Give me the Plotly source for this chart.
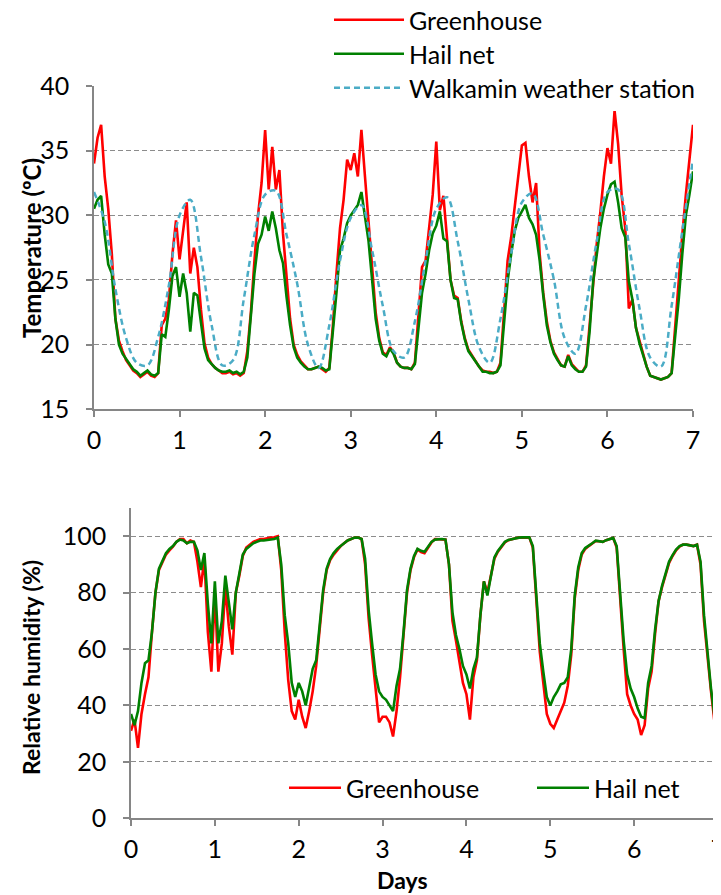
import plotly.graph_objects as go

# ---------------- data ----------------
hours = list(range(169))                      # hourly samples, 7 days
ws_steps = list(range(57))                    # 3-hourly samples for the weather station

temp_greenhouse = [
    34.0, 36.0, 37.0, 33.0, 30.5, 27.0, 22.0, 20.3, 19.5, 18.8, 18.4, 18.0, 17.8, 17.5, 17.7, 17.9, 17.6, 17.5, 17.8, 21.5, 22.0, 23.5, 27.0, 29.6,
    26.6, 28.9, 31.0, 25.5, 27.5, 26.0, 22.7, 20.1, 19.0, 18.5, 18.2, 18.0, 17.8, 17.8, 17.9, 17.7, 17.8, 17.6, 17.8, 19.5, 22.5, 26.5, 30.0, 32.5,
    36.6, 32.0, 35.3, 32.0, 33.5, 28.6, 25.3, 22.0, 20.0, 19.2, 18.7, 18.4, 18.1, 18.1, 18.2, 18.3, 18.1, 17.9, 18.2, 21.5, 25.5, 29.0, 31.2, 34.3,
    33.5, 34.8, 33.0, 36.6, 33.0, 29.5, 26.0, 22.5, 20.5, 19.4, 19.2, 19.8, 19.4, 18.6, 18.3, 18.2, 18.2, 18.1, 18.6, 22.0, 26.0, 26.5, 29.0, 31.6,
    35.7, 30.4, 31.5, 28.0, 25.0, 23.8, 23.6, 21.8, 20.5, 19.6, 19.2, 18.7, 18.3, 18.0, 17.9, 17.9, 17.8, 17.9, 18.6, 22.5, 26.5, 28.3, 30.8, 33.0,
    35.4, 35.6, 33.0, 31.0, 32.5, 27.0, 24.0, 21.8, 20.3, 19.4, 18.9, 18.4, 18.3, 19.2, 18.5, 18.2, 17.9, 17.9, 18.4, 21.5, 25.0, 27.8, 30.2, 33.0,
    35.2, 34.0, 38.1, 35.5, 31.5, 29.0, 22.8, 23.5, 21.3, 20.2, 19.3, 18.3, 17.6, 17.5, 17.4, 17.3, 17.4, 17.5, 17.8, 21.5, 24.5, 28.5, 31.6, 34.1,
    37.0,
]

temp_hailnet = [
    30.5, 31.2, 31.5, 28.5, 26.2, 25.5, 22.0, 20.0, 19.3, 18.9, 18.5, 18.1, 17.9, 17.6, 17.8, 18.0, 17.7, 17.6, 17.8, 20.8, 20.6, 22.7, 25.3, 26.0,
    23.7, 25.5, 24.0, 21.0, 24.0, 23.8, 21.7, 19.7, 18.8, 18.5, 18.2, 18.0, 17.9, 17.9, 18.0, 17.8, 17.9, 17.7, 17.9, 19.0, 22.0, 25.5, 27.8, 28.5,
    29.9, 28.8, 30.3, 29.0, 27.3, 26.3, 23.7, 21.5, 19.8, 19.0, 18.6, 18.3, 18.1, 18.1, 18.2, 18.3, 18.2, 18.0, 18.1, 20.8, 24.0, 27.3, 28.2, 29.4,
    30.0, 30.4, 30.8, 31.8, 29.8, 28.0, 25.0, 22.0, 20.3, 19.3, 19.1, 19.7, 19.3, 18.6, 18.3, 18.2, 18.2, 18.1, 18.5, 21.5, 24.0, 25.5, 27.3, 28.6,
    29.2, 30.3, 28.2, 28.0, 25.0, 23.6, 23.5, 21.7, 20.4, 19.5, 19.1, 18.6, 18.2, 17.9, 17.9, 17.8, 17.8, 17.9, 18.4, 21.5, 24.9, 27.0, 28.8, 29.8,
    30.3, 30.8, 29.8, 29.3, 28.5, 26.5, 23.8, 21.5, 20.2, 19.3, 18.8, 18.4, 18.3, 19.1, 18.4, 18.1, 17.9, 17.9, 18.3, 21.0, 24.9, 27.0, 29.0, 30.5,
    31.6, 32.4, 32.6, 31.0, 29.0, 28.3, 24.9, 23.5, 21.3, 20.1, 19.2, 18.3, 17.6, 17.5, 17.4, 17.3, 17.4, 17.5, 17.8, 20.5, 23.5, 27.0, 30.0, 31.6,
    33.4,
]

temp_walkamin = [
    31.8, 29.5, 24.3, 20.5, 18.6, 18.4, 20.6, 24.6,
    30.0, 31.2, 26.8, 21.5, 18.4, 18.8, 23.5, 28.5,
    31.6, 31.9, 28.5, 24.7, 20.0, 18.2, 21.5, 26.5,
    29.8, 30.8, 27.3, 23.0, 19.5, 19.0, 21.8, 26.5,
    30.5, 31.4, 28.0, 23.5, 19.8, 18.6, 22.0, 27.0,
    31.0, 31.7, 28.5, 25.0, 20.5, 19.3, 23.0, 28.0,
    31.8, 32.0, 27.8, 22.8, 19.0, 18.3, 23.0, 28.8,
    34.3,
]

rh_greenhouse = [
    31, 35, 25, 37, 44, 50, 66, 80, 88, 91, 93.5, 95, 96.3, 98, 99, 99, 97.5, 98.5, 98, 91, 82, 92, 66, 52,
    80, 52, 62, 82, 68, 58, 80, 86, 93, 96, 97, 98, 98.5, 99, 99, 99.3, 99.5, 99.6, 100, 88, 66, 49, 38, 35,
    42, 36, 32, 38, 45, 54, 67, 80, 88, 91.5, 93.5, 95, 96.5, 97.5, 98.5, 99, 99.5, 99.5, 99, 90, 71, 58, 45, 34,
    36, 36, 34, 29, 38, 50, 65, 80, 88, 92.6, 95.3, 94.4, 94, 96, 97.8, 99, 99, 99, 98.8, 90, 70, 63, 56, 48,
    44, 35, 50, 56, 72, 84, 80, 86, 92, 94.5, 96, 97.8, 98.6, 99, 99.3, 99.5, 99.6, 99.6, 99.6, 96, 76, 59, 48, 37,
    33.5, 32, 35, 38, 41, 47, 58, 78, 88, 93.5, 95.5, 96.5, 97.3, 98.3, 98.2, 98, 98.6, 99, 99.4, 96, 76, 60, 44, 40,
    37, 35, 29.5, 33, 46, 52, 65.5, 77, 82, 86, 90.5, 93, 95, 96.3, 97, 97, 96.8, 96.5, 97, 90, 70, 57, 45, 34,
    29,
]

rh_hailnet = [
    37, 33, 38, 48, 55, 56, 66, 80, 88.5, 91.5, 94, 95.5, 96.5, 98, 98.8, 98.5, 97.5, 98, 98, 95, 88, 94, 76, 62,
    84, 62, 70, 86, 76, 67, 80, 87, 93.5, 95.5, 96.5, 97.5, 98, 98.5, 98.5, 98.7, 99, 99, 99.5, 90, 72, 62, 48, 43,
    48, 45, 40, 46, 53, 56, 68, 81, 88.5, 92, 94, 95.5, 96.5, 97.5, 98.5, 99, 99.5, 99.5, 99, 92, 74, 62, 51, 45,
    43, 42, 40, 38, 47, 53, 66, 81, 88.5, 93, 95.5, 94.8, 94.5, 96.3, 98, 98.8, 99, 99, 98.8, 90, 73, 65, 60, 54,
    51, 46, 53, 57, 72, 84, 79, 86.5, 92.5, 94.8, 96.3, 98, 98.7, 99, 99.3, 99.5, 99.6, 99.6, 99.6, 96.5, 78, 62, 52, 43,
    40, 43, 45, 47.5, 48, 50, 60, 79, 89, 94, 95.8, 96.8, 97.5, 98.4, 98.2, 98, 98.6, 99, 99.4, 96.5, 78, 63, 51, 46,
    43, 39, 36, 35.5, 48, 54, 67, 77, 82.5, 86.5, 91, 93.3, 95.3, 96.5, 97, 97, 96.8, 96.5, 97, 91, 72, 58, 46, 36,
    32,
]

day_ticks = [0, 1, 2, 3, 4, 5, 6, 7]
temp_ticks = [15, 20, 25, 30, 35, 40]
rh_ticks = [0, 20, 40, 60, 80, 100]

days = [h / 24 for h in hours]
ws_days = [s / 8 for s in ws_steps]

# ---------------- styling ----------------
FONT = "Lato"
FS = 25
LFS = 25
TFS = 24
RED = "#FF0000"
GREEN = "#008000"
BLUE = "#4BACC6"
AXIS = "#868686"
GRID = "#8C8C8C"
# the page adds an 8 px body margin, so the figure is 8 px smaller and all
# pixel positions below are the reference positions minus 8
W, H = 713, 887

fig = go.Figure()

fig.add_trace(go.Scatter(x=days, y=temp_greenhouse, mode="lines", name="Greenhouse",
                         line=dict(color=RED, width=2.6), legend="legend",
                         xaxis="x", yaxis="y"))
fig.add_trace(go.Scatter(x=days, y=temp_hailnet, mode="lines", name="Hail net",
                         line=dict(color=GREEN, width=2.6), legend="legend3",
                         xaxis="x", yaxis="y"))
fig.add_trace(go.Scatter(x=ws_days, y=temp_walkamin, mode="lines", name="Walkamin weather station",
                         line=dict(color=BLUE, width=2.5, dash="6px,4px", shape="spline"),
                         legend="legend4", xaxis="x", yaxis="y"))

fig.add_trace(go.Scatter(x=days, y=rh_greenhouse, mode="lines", name="Greenhouse",
                         line=dict(color=RED, width=2.6), legend="legend2",
                         xaxis="x2", yaxis="y2"))
fig.add_trace(go.Scatter(x=days, y=rh_hailnet, mode="lines", name="Hail net",
                         line=dict(color=GREEN, width=2.6), legend="legend5",
                         xaxis="x2", yaxis="y2"))

common_x = dict(range=[0, 7], tickvals=day_ticks, showgrid=False, zeroline=False,
                showline=True, linecolor=AXIS, linewidth=1.5, ticks="outside",
                ticklen=6, tickcolor=AXIS, tickwidth=1.5, ticklabelstandoff=2,
                ticklabeloverflow="allow",
                tickfont=dict(family=FONT, size=FS, color="black"))
common_y = dict(showgrid=True, gridcolor=GRID, gridwidth=1.2, griddash="5px,3px",
                zeroline=False, showline=True, linecolor=AXIS, linewidth=1.5,
                ticks="outside", ticklen=6, tickcolor=AXIS, tickwidth=1.5,
                ticklabelstandoff=12, tickfont=dict(family=FONT, size=FS, color="black"))


def leg(x_px, y_px, itemw, bg="white"):
    return dict(x=x_px / W, y=1 - y_px / H, xanchor="left", yanchor="middle",
                bgcolor=bg, borderwidth=0, orientation="v", itemwidth=itemw,
                font=dict(family=FONT, size=LFS, color="black"))


fig.update_layout(
    width=W, height=H,
    margin=dict(l=0, r=0, t=0, b=0, autoexpand=False),
    paper_bgcolor="white", plot_bgcolor="white",
    font=dict(family=FONT, size=FS, color="black"),
    xaxis=dict(domain=[86 / W, 685 / W], anchor="y", **common_x),
    yaxis=dict(domain=[1 - 401.3 / H, 1 - 78 / H], anchor="x", range=[15, 40],
               tickvals=temp_ticks, **common_y),
    xaxis2=dict(domain=[123 / W, 710 / W], anchor="y2", **common_x),
    yaxis2=dict(domain=[1 - 810.3 / H, 1 - 500 / H], anchor="x2", range=[0, 110],
                tickvals=rh_ticks, **common_y),
    legend=leg(321, 12, 70),
    legend3=leg(321, 46, 70),
    legend4=leg(321, 80, 70),
    legend2=leg(276, 780, 52, "rgba(255,255,255,0)"),
    legend5=leg(524, 780, 52, "rgba(255,255,255,0)"),
    showlegend=True,
    annotations=[
        dict(text="<b>Temperature (ºC)</b>", x=23 / W, y=1 - 240 / H, xref="paper", yref="paper",
             xanchor="center", yanchor="middle",
             textangle=-90, showarrow=False, font=dict(family=FONT, size=TFS, color="black")),
        dict(text="<b>Relative humidity (%)</b>", x=23 / W, y=1 - 660 / H, xref="paper", yref="paper",
             xanchor="center", yanchor="middle",
             textangle=-90, showarrow=False, font=dict(family=FONT, size=23, color="black")),
        dict(text="<b>Days</b>", x=394 / W, y=1 - 872 / H, xref="paper", yref="paper",
             xanchor="center", yanchor="middle",
             showarrow=False, font=dict(family=FONT, size=23, color="black")),
    ],
)

fig.write_html("out.html")
